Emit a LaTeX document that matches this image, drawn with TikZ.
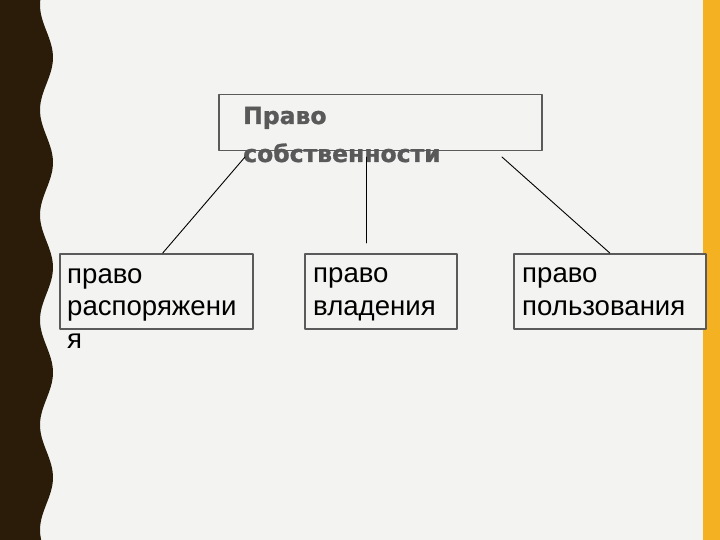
\documentclass[tikz,border=0pt]{standalone}
\usepackage{fontspec}
\setmainfont{Liberation Sans}
\newfontfamily\titlefont[BoldFeatures={FakeBold=1.2}]{DejaVu Sans}
\usetikzlibrary{positioning}
\definecolor{bg}{HTML}{F3F3F1}
\definecolor{band}{HTML}{2A1C08}
\definecolor{strip}{HTML}{F4B223}
\definecolor{boxgray}{HTML}{5A5A5A}
\definecolor{titlegray}{HTML}{595959}

\begin{document}
\begin{tikzpicture}[x=1pt,y=-1pt,line join=round,line cap=round,
	box/.style={draw=boxgray,line width=1.5pt,fill=bg,inner sep=0pt,anchor=north west},
	% base west = baseline of the last line
	boxtext/.style={anchor=base west,inner sep=0pt,align=left,font=\fontsize{27.6}{32.5}\selectfont},
	link/.style={black,line width=0.9pt}]
	\def\W{720} \def\H{540}
	% background, wavy band and side strip
	\fill[bg] (0,0) rectangle (\W,\H);
	\useasboundingbox (0,0) rectangle (\W,\H);
	\fill[band] (0,0) -- plot[smooth,samples=80,domain=0:\H] ({46.5-6.5*cos(3.4286*(\x-5))},\x) -- (0,\H) -- cycle;
	\fill[strip] (703,0) rectangle (\W,\H);
	% boxes
	\node[box,minimum width=323pt,minimum height=56pt] (own) at (218,94) {};
	\node[box,minimum width=193pt,minimum height=75pt] (rasp) at (59,253) {};
	\node[box,minimum width=152pt,minimum height=75pt] (vlad) at (304,253) {};
	\node[box,minimum width=192pt,minimum height=75pt] (pols) at (513,253) {};
	% texts
	\node[anchor=base west,inner sep=0pt,align=left,text=titlegray,
		font=\titlefont\bfseries\fontsize{23.5}{38}\selectfont] (ownt) at (243,162) {Право\\собственности};
	\node[boxtext] (raspt) at (67,348) {право\\распоряжени\\я};
	\node[boxtext] (vladt) at (313,315) {право\\владения};
	\node[boxtext] (polst) at (522,315) {право\\пользования};
	% connectors
	\coordinate (a1) at (245,157);
	\coordinate (a2) at (366,157);
	\coordinate (a3) at (502,157);
	\coordinate (b2) at (366,243);
	\draw[link] (a1) -- ([xshift=6.5pt]rasp.north);
	\draw[link] (a2) -- (b2);
	\draw[link] (a3) -- (pols.north);
\end{tikzpicture}
\end{document}
